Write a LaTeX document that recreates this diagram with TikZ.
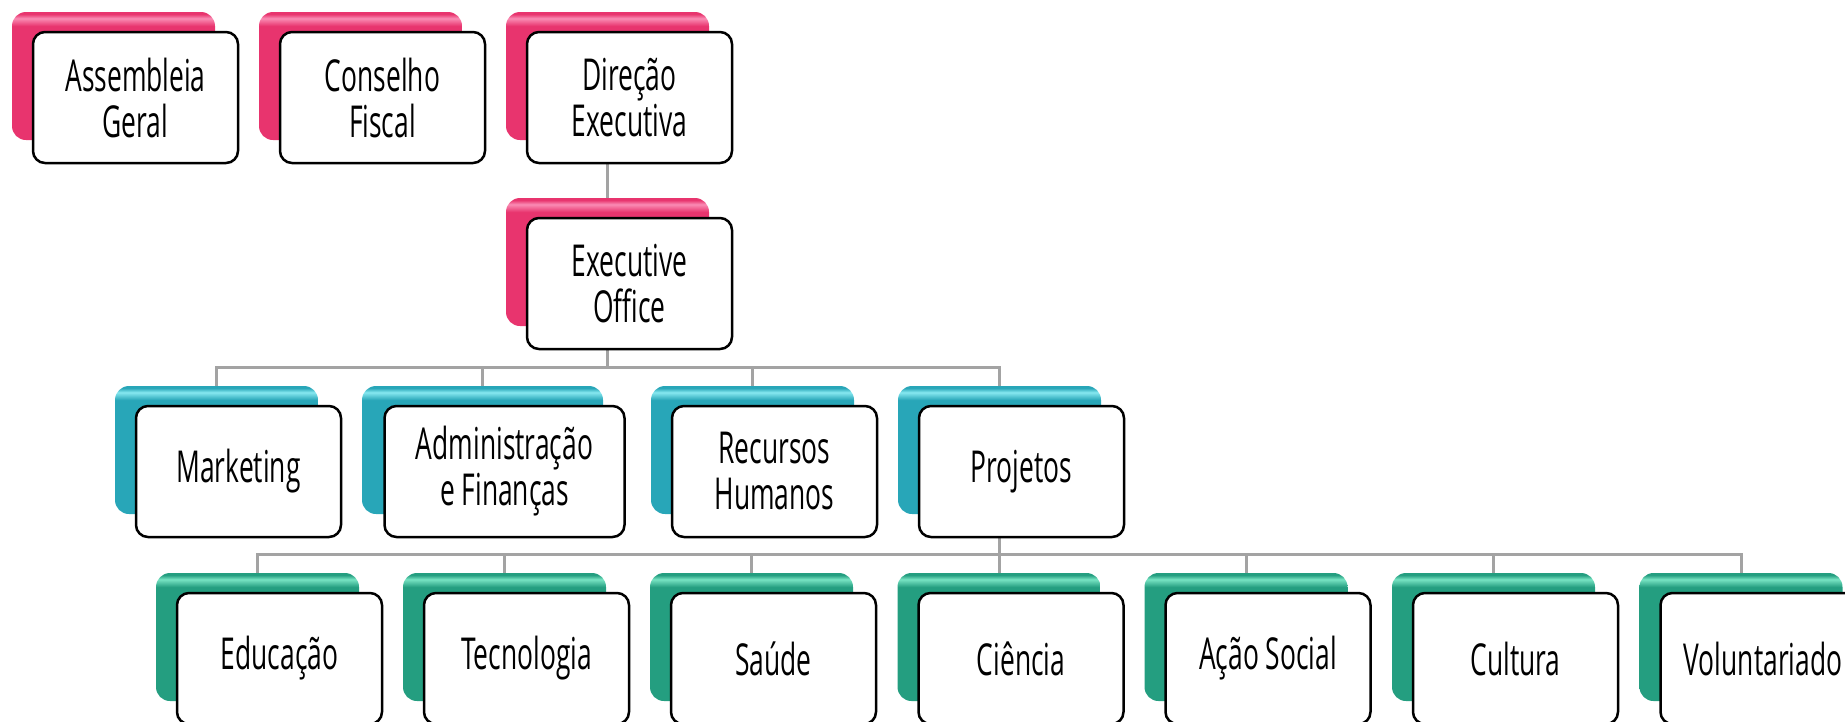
\documentclass[tikz,border=0pt]{standalone}
\usepackage{fontspec}
\newfontfamily\boxfont[FakeStretch=0.6]{Open Sans}
\usepackage{tikz}
\usetikzlibrary{backgrounds}
\definecolor{Pink-1}{RGB}{232,52,110}
\definecolor{Pink-2}{RGB}{250,140,180}
\definecolor{Teal-1}{RGB}{40,166,184}
\definecolor{Teal-2}{RGB}{135,232,240}
\definecolor{Green-1}{RGB}{36,158,128}
\definecolor{Green-2}{RGB}{120,228,195}
\definecolor{Line-1}{RGB}{163,163,163}
\pgfdeclareverticalshading{pinkgloss}{100bp}{color(0bp)=(Pink-1); color(69.5bp)=(Pink-1); color(72.5bp)=(Pink-2); color(74.2bp)=(Pink-1); color(100bp)=(Pink-1)}
\pgfdeclareverticalshading{tealgloss}{100bp}{color(0bp)=(Teal-1); color(69.5bp)=(Teal-1); color(72.5bp)=(Teal-2); color(74.2bp)=(Teal-1); color(100bp)=(Teal-1)}
\pgfdeclareverticalshading{greengloss}{100bp}{color(0bp)=(Green-1); color(69.5bp)=(Green-1); color(72.5bp)=(Green-2); color(74.2bp)=(Green-1); color(100bp)=(Green-1)}

\begin{document}
\begin{tikzpicture}[x=1pt, y=-1pt]
    \tikzset{ bk/.style  ={rounded corners=14pt, minimum width=203pt, minimum height=128pt, inner sep=0pt} }
    \tikzset{ pkbk/.style={bk, shading=pinkgloss} }
    \tikzset{ tlbk/.style={bk, shading=tealgloss} }
    \tikzset{ grbk/.style={bk, shading=greengloss} }
    \tikzset{ frt/.style ={draw=black, fill=white, line width=2.5pt, rounded corners=12pt, minimum width=205pt, minimum height=131pt, align=center, font=\boxfont\fontsize{44}{46}\selectfont} }
    \tikzset{ conn/.style={draw=Line-1, line width=3pt} }

    \path[use as bounding box, clip] (0,0) rectangle (1845,721);

    % governance
    \node[pkbk] (asg_bk) at (113.5, 76) {};
    \node[frt ] (asg)    at (113.5+22, 76+21.5) {Assembleia\\Geral};
    \node[pkbk] (cfs_bk) at (360.5, 76) {};
    \node[frt ] (cfs)    at (360.5+22, 76+21.5) {Conselho\\Fiscal};
    \node[pkbk] (dir_bk) at (607.5, 76) {};
    \node[frt ] (dir)    at (607.5+22, 76+21.5) {Direção\\Executiva};
    \node[pkbk] (exo_bk) at (607.5, 262) {};
    \node[frt ] (exo)    at (607.5+22, 262+21.5) {Executive\\Office};

    % departments
    \node[tlbk] (mkt_bk) at (216.5, 450) {};
    \node[frt ] (mkt)    at (216.5+22, 450+21.5) {Marketing};
    \node[tlbk, minimum width=241pt] (adm_bk) at (482.5, 450) {};
    \node[frt,  minimum width=240pt] (adm)    at (482.5+22, 450+21.5) {Administração\\e Finanças};
    \node[tlbk] (rhu_bk) at (752.5, 450) {};
    \node[frt ] (rhu)    at (752.5+22, 450+21.5) {Recursos\\Humanos};
    \node[tlbk] (prj_bk) at (999.5, 450) {};
    \node[frt ] (prj)    at (999.5+22, 450+21.5) {Projetos};

    % projects
    \node[grbk] (edu_bk) at ( 257.5, 637) {};
    \node[frt ] (edu)    at ( 257.5+22, 637+21.5) {Educação};
    \node[grbk] (tec_bk) at ( 504.5, 637) {};
    \node[frt ] (tec)    at ( 504.5+22, 637+21.5) {Tecnologia};
    \node[grbk] (sau_bk) at ( 751.5, 637) {};
    \node[frt ] (sau)    at ( 751.5+22, 637+21.5) {Saúde};
    \node[grbk] (cie_bk) at ( 999.0, 637) {};
    \node[frt ] (cie)    at ( 999.0+22, 637+21.5) {Ciência};
    \node[grbk] (aso_bk) at (1246.0, 637) {};
    \node[frt ] (aso)    at (1246.0+22, 637+21.5) {Ação Social};
    \node[grbk] (cul_bk) at (1493.5, 637) {};
    \node[frt ] (cul)    at (1493.5+22, 637+21.5) {Cultura};
    \node[grbk] (vol_bk) at (1741.0, 637) {};
    \node[frt ] (vol)    at (1741.0+22, 637+21.5) {Voluntariado};

    \coordinate (bus2) at (607.5, 367);
    \coordinate (bus3) at (999.5, 554);

    \begin{scope}[on background layer]
    \draw[conn] (dir_bk) -- (exo_bk);
    \draw[conn] (exo_bk) -- (bus2);
    \draw[conn] (bus2)   -| (mkt_bk);
    \draw[conn] (bus2)   -| (adm_bk);
    \draw[conn] (bus2)   -| (rhu_bk);
    \draw[conn] (bus2)   -| (prj_bk);
    \draw[conn] (prj_bk) -- (bus3);
    \draw[conn] (bus3)   -| (edu_bk);
    \draw[conn] (bus3)   -| (tec_bk);
    \draw[conn] (bus3)   -| (sau_bk);
    \draw[conn] (bus3)   -| (cie_bk);
    \draw[conn] (bus3)   -| (aso_bk);
    \draw[conn] (bus3)   -| (cul_bk);
    \draw[conn] (bus3)   -| (vol_bk);
    \end{scope}
\end{tikzpicture}
\end{document}
